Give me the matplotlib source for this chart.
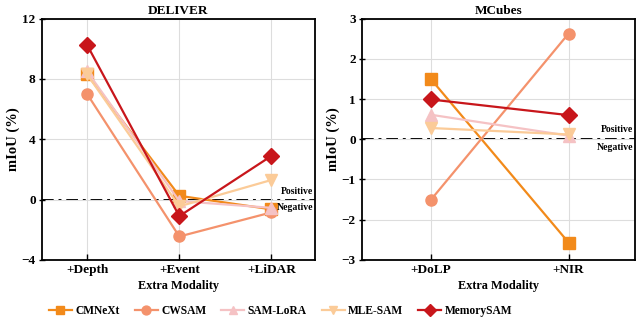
import matplotlib.pyplot as plt
import numpy as np

plt.rcParams['font.family'] = 'Liberation Serif'
plt.rcParams['font.weight'] = 'bold'

methods = ["CMNeXt", "CWSAM", "SAM-LoRA", "MLE-SAM", "MemorySAM"]
colors = ["#F28A1A", "#F4926C", "#F5C2C4", "#FBCB98", "#C8161B"]
markers = ["s", "o", "^", "v", "D"]

deliverMods = ["+Depth", "+Event", "+LiDAR"]
deliverVals = {
    "CMNeXt": [8.3, 0.25, -0.65],
    "CWSAM": [7.0, -2.45, -0.85],
    "SAM-LoRA": [8.5, -0.1, -0.55],
    "MLE-SAM": [8.3, -0.45, 1.3],
    "MemorySAM": [10.25, -1.1, 2.9],
}

mcubesMods = ["+DoLP", "+NIR"]
mcubesVals = {
    "CMNeXt": [1.5, -2.57],
    "CWSAM": [-1.51, 2.63],
    "SAM-LoRA": [0.61, 0.09],
    "MLE-SAM": [0.28, 0.12],
    "MemorySAM": [0.99, 0.6],
}

fig = plt.figure(figsize=(6.36, 3.22), dpi=100)
ax1 = fig.add_axes([0.066, 0.193, 0.429, 0.749])
ax2 = fig.add_axes([0.569, 0.193, 0.429, 0.749])


def drawPanel(ax, mods, vals, title, yticks, xlim):
    x = np.arange(len(mods))
    ax.grid(True, color="#dddddd", linewidth=0.8, zorder=0)
    ax.axhline(0, color="black", linestyle=(0, (6, 2.5, 1.5, 2.5)), linewidth=1.4, zorder=1)
    for m, c, mk in zip(methods, colors, markers):
        ax.plot(x, vals[m], color=c, marker=mk, markersize=8,
                linewidth=1.6, label=m, zorder=3)
    ax.set_xticks(x)
    ax.set_xticklabels(mods, fontsize=9.5, fontweight="bold")
    ax.set_yticks(yticks)
    ax.set_yticklabels([str(t).replace("-", "\u2212") for t in yticks],
                       fontsize=9.5, fontweight="bold")
    ax.set_ylim(yticks[0], yticks[-1])
    ax.set_xlim(*xlim)
    ax.set_title(title, fontsize=9.5, fontweight="bold", pad=3.5)
    ax.set_xlabel("Extra Modality", fontsize=8.8, fontweight="bold", labelpad=3)
    ax.set_ylabel("mIoU (%)", fontsize=10.5, fontweight="bold", labelpad=1)
    ax.tick_params(axis="y", direction="inout", length=5, width=1, pad=2)
    ax.tick_params(axis="x", direction="in", length=4, width=1, pad=3)
    for s in ax.spines.values():
        s.set_linewidth(1.3)
    ax.text(0.995, 0.265 if title == "DELIVER" else 0.52, "Positive",
            transform=ax.transAxes, ha="right", va="bottom",
            fontsize=7, fontweight="bold")
    ax.text(0.995, 0.235 if title == "DELIVER" else 0.485, "Negative",
            transform=ax.transAxes, ha="right", va="top",
            fontsize=7, fontweight="bold")


drawPanel(ax1, deliverMods, deliverVals, "DELIVER", [-4, 0, 4, 8, 12], (-0.49, 2.47))
drawPanel(ax2, mcubesMods, mcubesVals, "MCubes", [-3, -2, -1, 0, 1, 2, 3], (-0.5, 1.48))

handles, labels = ax1.get_legend_handles_labels()
fig.legend(handles, labels, loc="center", bbox_to_anchor=(0.441, 0.035), ncol=5,
           frameon=False, fontsize=8.3, handlelength=2.0, handletextpad=0.3,
           columnspacing=1.3, markerscale=0.8)

fig.savefig("out.png", dpi=100)
